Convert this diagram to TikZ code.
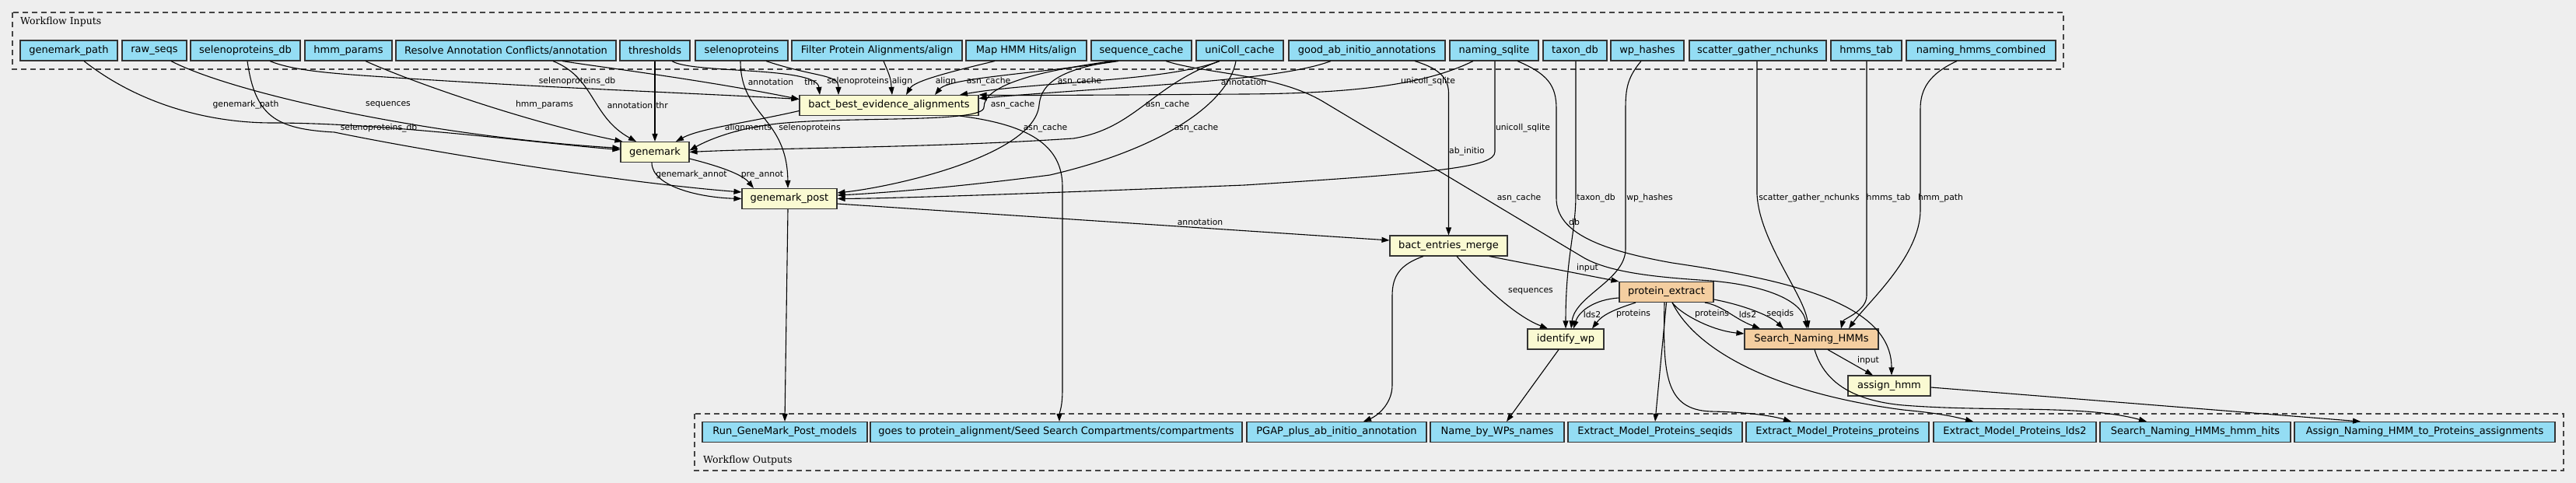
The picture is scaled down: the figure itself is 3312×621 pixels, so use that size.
\documentclass[tikz,border=0pt]{standalone}
\usepackage{fontspec}
\setmainfont{DejaVu Sans}
\newfontfamily\clusterfont{DejaVu Serif}
\usetikzlibrary{arrows.meta}
\definecolor{bgc}{HTML}{EEEEEE}
\definecolor{ioblue}{HTML}{94DDF4}
\definecolor{procyel}{HTML}{FAFAD2}
\definecolor{procorg}{HTML}{F4CEA0}
\definecolor{bordc}{HTML}{333333}
\definecolor{dashc}{HTML}{444444}
\begin{document}
\begin{tikzpicture}[x=1pt,y=-1pt,
  box/.style={draw=bordc, line width=1.1pt, rectangle, minimum height=26pt, inner sep=0pt, font=\fontsize{13}{15}\selectfont, text=black},
  inbox/.style={box, fill=ioblue},
  yel/.style={box, fill=procyel},
  org/.style={box, fill=procorg},
  elab/.style={font=\fontsize{10.8}{13}\selectfont, inner sep=0pt, text=black},
  conn/.style={draw=black, line width=1.1pt, -{Triangle[length=10pt,width=7pt]}},
  cluster/.style={draw=dashc, line width=1.2pt, dash pattern=on 7pt off 5pt},
  ctitle/.style={font=\clusterfont\fontsize{12.5}{15}\selectfont, anchor=west, inner sep=0pt}]
\useasboundingbox (0,0) rectangle (3312,621);
\fill[bgc] (0,0) rectangle (3312,621);
% clusters
\draw[cluster] (16,16) rectangle (2653,89);
\node[ctitle] (tin) at (26,28) {Workflow Inputs};
\draw[cluster] (893,532) rectangle (3296,605);
\node[ctitle] (tout) at (904,592) {Workflow Outputs};
% inputs
\node[inbox,minimum width=125pt] (gp) at (88.5,65) {genemark\_path};
\node[inbox,minimum width=83pt] (rs) at (198.5,65) {raw\_seqs};
\node[inbox,minimum width=141pt] (sdb) at (315.5,65) {selenoproteins\_db};
\node[inbox,minimum width=112pt] (hp) at (448,65) {hmm\_params};
\node[inbox,minimum width=283pt] (rac) at (650.5,65) {Resolve Annotation Conflicts/annotation};
\node[inbox,minimum width=90pt] (thr) at (842,65) {thresholds};
\node[inbox,minimum width=119pt] (sel) at (953.5,65) {selenoproteins};
\node[inbox,minimum width=219pt] (fpa) at (1127.5,65) {Filter Protein Alignments/align};
\node[inbox,minimum width=155pt] (mhh) at (1319.5,65) {Map HMM Hits/align};
\node[inbox,minimum width=129pt] (sc) at (1467.5,65) {sequence\_cache};
\node[inbox,minimum width=112pt] (uc) at (1594,65) {uniColl\_cache};
\node[inbox,minimum width=201pt] (gab) at (1757.5,65) {good\_ab\_initio\_annotations};
\node[inbox,minimum width=114pt] (ns) at (1921,65) {naming\_sqlite};
\node[inbox,minimum width=82pt] (tdb) at (2025,65) {taxon\_db};
\node[inbox,minimum width=94pt] (wph) at (2118,65) {wp\_hashes};
\node[inbox,minimum width=176pt] (sgn) at (2260,65) {scatter\_gather\_nchunks};
\node[inbox,minimum width=91pt] (ht) at (2399.5,65) {hmms\_tab};
\node[inbox,minimum width=192pt] (nhc) at (2547,65) {naming\_hmms\_combined};
% processes
\node[yel,minimum width=230pt] (bbe) at (1143,135.5) {bact\_best\_evidence\_alignments};
\node[yel,minimum width=88pt] (gm) at (842,195.5) {genemark};
\node[yel,minimum width=122pt] (gmp) at (1015,255.5) {genemark\_post};
\node[yel,minimum width=151pt] (bem) at (1862.5,316) {bact\_entries\_merge};
\node[org,minimum width=121pt] (pe) at (2142.5,375.5) {protein\_extract};
\node[yel,minimum width=98pt] (iwp) at (2013,436) {identify\_wp};
\node[org,minimum width=172pt] (snh) at (2329,436) {Search\_Naming\_HMMs};
\node[yel,minimum width=106pt] (ah) at (2429,496) {assign\_hmm};
% outputs
\node[inbox,minimum width=212pt] (rgm) at (1009,555.5) {Run\_GeneMark\_Post\_models};
\node[inbox,minimum width=478pt] (gt) at (1358,555.5) {goes to protein\_alignment/Seed Search Compartments/compartments};
\node[inbox,minimum width=231pt] (pgap) at (1718.5,555.5) {PGAP\_plus\_ab\_initio\_annotation};
\node[inbox,minimum width=172pt] (nbw) at (1925,555.5) {Name\_by\_WPs\_names};
\node[inbox,minimum width=224pt] (emps) at (2128,555.5) {Extract\_Model\_Proteins\_seqids};
\node[inbox,minimum width=235pt] (empp) at (2362.5,555.5) {Extract\_Model\_Proteins\_proteins};
\node[inbox,minimum width=209pt] (empl) at (2590.5,555.5) {Extract\_Model\_Proteins\_lds2};
\node[inbox,minimum width=245pt] (snhh) at (2822.5,555.5) {Search\_Naming\_HMMs\_hmm\_hits};
\node[inbox,minimum width=335pt] (anh) at (3117.5,555.5) {Assign\_Naming\_HMM\_to\_Proteins\_assignments};
% edges
\draw[conn] ([xshift=19.5pt]gp.south) .. controls (180,135) and (270,158) .. (350,158) .. controls (500,158) and (700,185) .. ([yshift=3pt]gm.west);
\draw[conn] ([xshift=21.5pt]rs.south) .. controls (300,120) and (550,175) .. ([yshift=5pt]gm.west);
\draw[conn] ([xshift=31.5pt]sdb.south) .. controls (375,90) and (420,94) .. (480,98) .. controls (700,113) and (900,120) .. ([yshift=8pt]bbe.west);
\draw[conn] ([xshift=2.5pt]sdb.south) .. controls (328,150) and (355,166) .. (430,170) .. controls (550,195) and (800,235) .. ([yshift=8.5pt]gmp.west);
\draw[conn] ([xshift=22pt]hp.south) .. controls (540,110) and (690,160) .. ([xshift=3pt]gm.north west);
\draw[conn] ([xshift=60.5pt]rac.south) .. controls (765,100) and (760,150) .. ([xshift=-24pt]gm.north);
\draw[conn] ([xshift=72.5pt]rac.south) .. controls (770,86) and (900,102) .. ([yshift=8pt]bbe.west);
\draw[conn] (thr.south) -- (gm.north);
\draw[conn] ([xshift=22pt]thr.south) .. controls (890,95) and (1050,85) .. ([xshift=-89pt]bbe.north);
\draw[conn] ([xshift=31.5pt]sel.south) .. controls (1050,100) and (1078,95) .. ([xshift=-65pt]bbe.north);
\draw[conn] ([xshift=-1.5pt]sel.south) .. controls (952,150) and (1012,150) .. ([xshift=-2pt]gmp.north);
\draw[conn] ([xshift=8.5pt]fpa.south) .. controls (1145,100) .. ([xshift=4pt]bbe.north);
\draw[conn] ([xshift=-40.5pt]mhh.south) .. controls (1210,95) and (1175,105) .. ([xshift=22pt]bbe.north);
\draw[conn] ([xshift=-29.5pt]sc.south) .. controls (1330,95) and (1220,100) .. ([xshift=59pt]bbe.north);
\draw[conn] ([xshift=-37.5pt]sc.south) .. controls (1330,92) and (1265,110) .. (1265,138) .. controls (1265,158) and (1100,150) .. (1010,158) .. controls (950,163) and (910,180) .. ([yshift=2pt]gm.east);
\draw[conn] ([xshift=-32.5pt]sc.south) .. controls (1350,90) and (1338,115) .. (1336,135) .. controls (1330,200) and (1150,240) .. ([yshift=7.5pt]gmp.east);
\draw[conn] ([xshift=-26pt]uc.south) .. controls (1500,105) and (1330,105) .. ([xshift=91pt]bbe.north);
\draw[conn] ([xshift=-26pt]uc.south) .. controls (1480,110) and (1460,165) .. (1380,178) .. controls (1200,190) and (1000,190) .. (gm.east);
\draw[conn] ([xshift=-5pt]uc.south) .. controls (1580,130) and (1500,190) .. (1350,225) .. controls (1220,242) and (1120,249) .. ([yshift=4.5pt]gmp.east);
\draw[conn] ([xshift=-46.5pt]gab.south) .. controls (1640,105) and (1450,110) .. ([yshift=9pt]bbe.east);
\draw[conn] ([xshift=61.5pt]gab.south) .. controls (1850,88) and (1862.5,100) .. (1862.5,120) -- (bem.north);
\draw[conn] ([xshift=-27pt]ns.south) .. controls (1840,105) and (1760,120) .. (1600,121) .. controls (1450,122) and (1300,123) .. (bbe.north east);
\draw[conn] ([xshift=1pt]ns.south) -- (1922,195) .. controls (1922,215) and (1850,222) .. (1600,238) .. controls (1300,250) and (1150,255) .. (gmp.east);
\draw[conn] ([xshift=30pt]ns.south) .. controls (1990,95) and (2001,110) .. (2001,140) -- (2001,255) .. controls (2001,300) and (2060,322) .. (2150,338) .. controls (2300,360) and (2432,390) .. ([xshift=3pt]ah.north);
\draw[conn] ([xshift=31.5pt]sc.south) .. controls (1550,95) and (1640,95) .. (1700,130) -- (2034,330) .. controls (2070,352) and (2140,357) .. (2200,361) .. controls (2280,368) and (2318,390) .. ([xshift=-6pt]snh.north);
\draw[conn] ([xshift=91pt]bbe.south) .. controls (1320,160) and (1366,185) .. (1366,240) -- (1366,500) .. controls (1366,525) and (1362,530) .. ([xshift=4pt]gt.north);
\draw[conn] ([xshift=-4pt]gm.south) .. controls (838,240) and (900,254) .. (gmp.west);
\draw[conn] ([yshift=-8.5pt]gm.east) .. controls (930,215) and (955,225) .. ([xshift=-46pt]gmp.north);
\draw[conn] ([yshift=-6.5pt]gmp.east) -- ([yshift=7pt]bem.west);
\draw[conn] ([xshift=-2pt]gmp.south) -- (rgm.north);
\draw[conn] ([xshift=-32.5pt]bem.south) .. controls (1800,340) and (1790,355) .. (1790,380) -- (1790,495) .. controls (1790,520) and (1770,535) .. ([xshift=34.5pt]pgap.north);
\draw[conn] ([xshift=10.5pt]bem.south) .. controls (1900,360) and (1945,405) .. ([xshift=-23pt]iwp.north);
\draw[conn] ([xshift=52.5pt]bem.south) -- (pe.north west);
\draw[conn] ([xshift=1pt]tdb.south) -- (2026,250) .. controls (2026,300) and (2013,330) .. (iwp.north);
\draw[conn] ([xshift=-8pt]wph.south) .. controls (2092,100) and (2090,115) .. (2090,140) -- (2090,320) .. controls (2090,360) and (2025,380) .. ([xshift=7pt]iwp.north);
\draw[conn] ([yshift=-7.5pt]pe.west) .. controls (2050,385) and (2030,400) .. ([xshift=10pt]iwp.north);
\draw[conn] ([xshift=-39.5pt]pe.south) .. controls (2075,398) and (2060,405) .. ([xshift=34pt]iwp.north);
\draw[conn] ([xshift=-9pt]iwp.south) -- ([xshift=12pt]nbw.north);
\draw[conn] ([xshift=7.5pt]pe.south) .. controls (2160,403) and (2200,425) .. ([yshift=7pt]snh.west);
\draw[conn] ([xshift=49.5pt]pe.south) .. controls (2215,393) and (2230,410) .. ([xshift=-66pt]snh.north);
\draw[conn] ([yshift=-9.5pt]pe.east) .. controls (2240,392) and (2275,405) .. ([xshift=-36pt]snh.north);
\draw[conn] ([xshift=-1pt]sgn.south) -- (2259,250) .. controls (2262,310) and (2320,380) .. ([xshift=-4pt]snh.north);
\draw[conn] ([xshift=0.5pt]ht.south) -- (2400,380) .. controls (2400,400) and (2370,410) .. ([xshift=38pt]snh.north);
\draw[conn] ([xshift=-31pt]nhc.south) .. controls (2480,95) and (2469,115) .. (2469,140) -- (2469,270) .. controls (2469,330) and (2400,390) .. ([xshift=48pt]snh.north);
\draw[conn] ([xshift=21pt]snh.south) -- ([xshift=-21pt]ah.north);
\draw[conn] ([xshift=4pt]snh.south) .. controls (2345,490) and (2380,515) .. (2447,521) .. controls (2560,530) and (2680,520) .. ([xshift=-62.5pt]snhh.north);
\draw[conn] ([yshift=-2pt]ah.east) -- ([xshift=-82.5pt]anh.north);
\draw[conn] (pe.south) -- (emps.north);
\draw[conn] ([xshift=-2.5pt]pe.south) .. controls (2138,480) and (2140,527) .. (2200,529) .. controls (2250,530) and (2280,535) .. ([xshift=-59.5pt]empp.north);
\draw[conn] ([xshift=7.5pt]pe.south) .. controls (2180,450) and (2280,505) .. (2447,527) .. controls (2490,531) and (2510,535) .. ([xshift=-53.5pt]empl.north);
\draw[conn] ([yshift=-7pt]bbe.west) .. controls (960,158) and (900,165) .. ([xshift=27pt]gm.north);
% edge labels
\node[elab] (l1) at (316,135) {genemark\_path};
\node[elab] (l2) at (499,135) {sequences};
\node[elab] (l3) at (742,105) {selenoproteins\_db};
\node[elab] (l4) at (487,165) {selenoproteins\_db};
\node[elab] (l5) at (700,135) {hmm\_params};
\node[elab] (l6) at (810,135) {annotation};
\node[elab] (l7) at (991,105) {annotation};
\node[elab] (l8) at (851,135) {thr};
\node[elab] (l9) at (1042,105) {thr};
\node[elab] (l10) at (1103,105) {selenoproteins};
\node[elab] (l11) at (1041,165) {selenoproteins};
\node[elab] (l12) at (1160,105) {align};
\node[elab] (l13) at (1216,105) {align};
\node[elab] (l14) at (1271,105) {asn\_cache};
\node[elab] (l15) at (1302,135) {asn\_cache};
\node[elab] (l16) at (1344,165) {asn\_cache};
\node[elab] (l17) at (1388,105) {asn\_cache};
\node[elab] (l18) at (1501,135) {asn\_cache};
\node[elab] (l19) at (1538,165) {asn\_cache};
\node[elab] (l20) at (1599,105) {annotation};
\node[elab] (l21) at (1886,195) {ab\_initio};
\node[elab] (l22) at (1836,105) {unicoll\_sqlite};
\node[elab] (l23) at (1958,165) {unicoll\_sqlite};
\node[elab] (l24) at (2024,285) {db};
\node[elab] (l25) at (1953,255) {asn\_cache};
\node[elab] (l26) at (962,165) {alignments};
\node[elab] (l27) at (889,225) {genemark\_annot};
\node[elab] (l28) at (980,225) {pre\_annot};
\node[elab] (l29) at (1543,285) {annotation};
\node[elab] (l30) at (1968,375) {sequences};
\node[elab] (l31) at (2041,345) {input};
\node[elab] (l32) at (2052,255) {taxon\_db};
\node[elab] (l33) at (2121,255) {wp\_hashes};
\node[elab] (l34) at (2047,404) {lds2};
\node[elab] (l35) at (2100,404) {proteins};
\node[elab] (l36) at (2201,404) {proteins};
\node[elab] (l37) at (2247,404) {lds2};
\node[elab] (l38) at (2289,404) {seqids};
\node[elab] (l39) at (2326,255) {scatter\_gather\_nchunks};
\node[elab] (l40) at (2428,255) {hmms\_tab};
\node[elab] (l41) at (2495,255) {hmm\_path};
\node[elab] (l42) at (2402,464) {input};
\end{tikzpicture}
\end{document}
